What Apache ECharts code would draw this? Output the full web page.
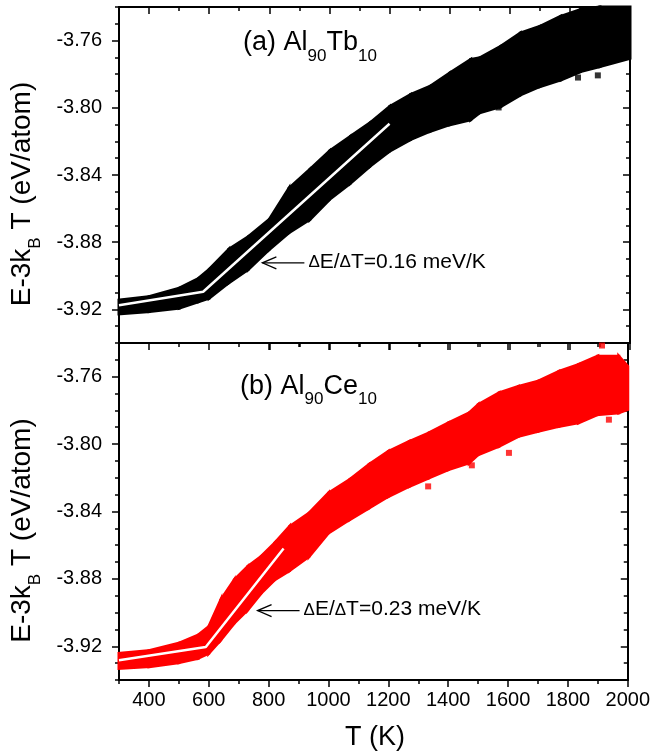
<!DOCTYPE html>
<html><head><meta charset="utf-8">
<script src="https://cdn.jsdelivr.net/npm/echarts@6/dist/echarts.min.js"></script>
<style>html,body{margin:0;padding:0;background:#fff}#c{width:653px;height:756px}</style>
</head><body><div id="c"></div>
<script>
// ---------- data ----------
// (a) Al90Tb10 : envelope of the scattered band (upper / lower edge)
const T_TB  = [300, 400, 500, 565, 600, 665, 730, 800, 865, 935, 1000, 1070, 1135, 1200, 1270, 1335, 1400, 1470, 1500, 1570, 1635, 1700, 1770, 1835, 1900, 2000];
const HI_TB = [-3.9144, -3.9124, -3.9074, -3.9015, -3.8962, -3.8843, -3.8767, -3.8665, -3.8480, -3.8367, -3.8258, -3.8170, -3.8090, -3.7993, -3.7921, -3.7872, -3.7793, -3.7713, -3.7703, -3.7634, -3.7555, -3.7515, -3.7455, -3.7415, -3.7400, -3.7400];
const LO_TB = [-3.9227, -3.9213, -3.9193, -3.9154, -3.9133, -3.9042, -3.8962, -3.8843, -3.8744, -3.8665, -3.8546, -3.8449, -3.8348, -3.8258, -3.8189, -3.8140, -3.8101, -3.8071, -3.8030, -3.7993, -3.7924, -3.7874, -3.7834, -3.7785, -3.7755, -3.7705];
const OUT_TB_T = [1763, 1563, 1827, 1893];
const OUT_TB_E = [-3.7523, -3.7998, -3.7820, -3.7807];
const FIT_TB_T = [300, 580, 1200];
const FIT_TB_E = [-3.9175, -3.9095, -3.8095];

// (b) Al90Ce10
const T_CE  = [300, 400, 500, 565, 600, 640, 685, 730, 775, 820, 870, 935, 1000, 1070, 1135, 1200, 1270, 1335, 1400, 1470, 1500, 1570, 1635, 1700, 1770, 1835, 1900, 1970, 2000];
const HI_CE = [-3.9242, -3.9226, -3.9182, -3.9133, -3.9083, -3.8925, -3.8806, -3.8727, -3.8667, -3.8588, -3.8489, -3.8409, -3.8290, -3.8211, -3.8122, -3.8043, -3.7984, -3.7934, -3.7874, -3.7815, -3.7766, -3.7696, -3.7657, -3.7627, -3.7568, -3.7528, -3.7478, -3.7478, -3.7538];
const LO_CE = [-3.9331, -3.9321, -3.9297, -3.9271, -3.9242, -3.9162, -3.9063, -3.8984, -3.8885, -3.8806, -3.8751, -3.8667, -3.8528, -3.8449, -3.8380, -3.8311, -3.8251, -3.8201, -3.8152, -3.8112, -3.8063, -3.8013, -3.7954, -3.7924, -3.7895, -3.7874, -3.7825, -3.7815, -3.7795];
const OUT_CE_T = [1914, 1937, 1479, 1603, 1333];
const OUT_CE_E = [-3.7415, -3.7855, -3.8126, -3.8052, -3.8251];
const FIT_CE_T = [300, 590, 850];
const FIT_CE_E = [-3.9283, -3.9204, -3.8620];

// axes
const X_MIN = 300, X_MAX = 2000, X_MINOR = 100;
const X_TICKS = [400, 600, 800, 1000, 1200, 1400, 1600, 1800, 2000];
const Y_MIN = -3.94, Y_MAX = -3.74, Y_MINOR = 0.01;
const Y_TICKS = [-3.92, -3.88, -3.84, -3.80, -3.76];

const PANELS = [
  {T: T_TB, HI: HI_TB, LO: LO_TB, OT: OUT_TB_T, OE: OUT_TB_E, FT: FIT_TB_T, FE: FIT_TB_E, color: '#000000',
   label: ['(a) Al', '90', 'Tb', '10'], slope: '0.16', arrow: [777, -3.8923]},
  {T: T_CE, HI: HI_CE, LO: LO_CE, OT: OUT_CE_T, OE: OUT_CE_E, FT: FIT_CE_T, FE: FIT_CE_E, color: '#ff0000',
   label: ['(b) Al', '90', 'Ce', '10'], slope: '0.23', arrow: [763, -3.8988]}
];

// ---------- chart ----------
const FONT = '"Liberation Sans", Arial, Helvetica, sans-serif';
const grids = [
  {left: 119, right: 23, top: 7, height: 336},
  {left: 119, right: 23, top: 343, height: 337}
];
const tickStyle = {color: '#000', width: 1.5};
const xAxis = [], yAxis = [];
grids.forEach((g, gi) => {
  const base = {type: 'value', gridIndex: gi, min: X_MIN, max: X_MAX, splitLine: {show: false}};
  xAxis.push(Object.assign({}, base, {
    position: 'bottom', interval: X_MINOR,
    axisLine: {show: true, lineStyle: {color: '#000', width: 2}},
    axisTick: {show: true, inside: false, length: 4, lineStyle: tickStyle},
    axisLabel: {show: gi === 1, margin: 10, fontSize: 20, color: '#000', fontFamily: FONT,
      formatter: v => (Math.round(v) % 200 === 0 ? String(Math.round(v)) : '')}
  }));
  xAxis.push(Object.assign({}, base, {
    position: 'bottom', axisLine: {show: false},
    axisTick: {show: true, inside: false, length: 7, customValues: X_TICKS, lineStyle: tickStyle},
    axisLabel: {show: false}
  }));
  xAxis.push(Object.assign({}, base, {
    position: 'top', interval: X_MINOR,
    axisLine: {show: true, lineStyle: {color: '#000', width: 2}},
    axisTick: {show: true, inside: true, length: 4, lineStyle: tickStyle},
    axisLabel: {show: false}
  }));
  xAxis.push(Object.assign({}, base, {
    position: 'top', axisLine: {show: false},
    axisTick: {show: true, inside: true, length: 7, customValues: X_TICKS, lineStyle: tickStyle},
    axisLabel: {show: false}
  }));

  const ybase = {type: 'value', gridIndex: gi, min: Y_MIN, max: Y_MAX, splitLine: {show: false}};
  yAxis.push(Object.assign({}, ybase, {
    position: 'left', interval: Y_MINOR,
    axisLine: {show: true, lineStyle: {color: '#000', width: 2}},
    axisTick: {show: true, inside: false, length: 4, lineStyle: tickStyle},
    axisLabel: {show: true, margin: 17, fontSize: 20, color: '#000', fontFamily: FONT,
      formatter: v => { const k = Math.round(v * 100); return (k % 4 === 0) ? (k / 100).toFixed(2) : ''; }}
  }));
  yAxis.push(Object.assign({}, ybase, {
    position: 'left', axisLine: {show: false},
    axisTick: {show: true, inside: false, length: 7, customValues: Y_TICKS, lineStyle: tickStyle},
    axisLabel: {show: false}
  }));
  yAxis.push(Object.assign({}, ybase, {
    position: 'right', interval: Y_MINOR,
    axisLine: {show: true, lineStyle: {color: '#000', width: 2}},
    axisTick: {show: true, inside: true, length: 4, lineStyle: tickStyle},
    axisLabel: {show: false}
  }));
  yAxis.push(Object.assign({}, ybase, {
    position: 'right', axisLine: {show: false},
    axisTick: {show: true, inside: true, length: 7, customValues: Y_TICKS, lineStyle: tickStyle},
    axisLabel: {show: false}
  }));
});

const series = [];
PANELS.forEach((p, gi) => {
  const ax = {xAxisIndex: gi * 4, yAxisIndex: gi * 4};
  const seg = [];
  for (let i = 0; i < p.T.length - 1; i++) {
    seg.push([p.T[i], p.LO[i], p.HI[i], p.T[i + 1], p.LO[i + 1], p.HI[i + 1]]);
  }
  series.push(Object.assign({
    type: 'custom', silent: true, z: 2,
    encode: {x: [0, 3], y: [1, 2, 4, 5]},
    data: seg,
    renderItem: (params, api) => {
      const a = api.coord([api.value(0), api.value(1)]);
      const b = api.coord([api.value(0), api.value(2)]);
      const c = api.coord([api.value(3), api.value(5)]);
      const d = api.coord([api.value(3), api.value(4)]);
      return {type: 'polygon', shape: {points: [a, b, c, d]},
        style: {fill: p.color, stroke: p.color, lineWidth: 3, lineJoin: 'miter'}};
    }
  }, ax));
  series.push(Object.assign({
    type: 'scatter', silent: true, z: 3, symbol: 'rect', symbolSize: 6,
    itemStyle: {color: p.color},
    data: p.OT.map((t, i) => [t, p.OE[i]])
  }, ax));
  series.push(Object.assign({
    type: 'line', silent: true, z: 5, symbol: 'none',
    lineStyle: {color: '#ffffff', width: 2.5},
    data: p.FT.map((t, i) => [t, p.FE[i]])
  }, ax));
});

const chart = echarts.init(document.getElementById('c'), null, {renderer: 'canvas'});
chart.setOption({
  animation: false,
  backgroundColor: '#fff',
  grid: grids,
  xAxis: xAxis,
  yAxis: yAxis,
  series: series
});

// ---------- text annotations (main text + subscripts as separate pieces) ----------
const mctx = document.createElement('canvas').getContext('2d');
function tw(text, size) { mctx.font = size + 'px ' + FONT; return mctx.measureText(text).width; }
function pieces(list, x0, y0) {
  const out = [];
  let x = x0;
  list.forEach(([t, s, dy]) => {
    out.push({type: 'text', x: x, y: y0 + dy, z: 10,
      style: {text: t, fontSize: s, fontFamily: FONT, fill: '#000', align: 'left', verticalAlign: 'middle'}});
    x += tw(t, s);
  });
  return {els: out, width: x - x0};
}

const graphics = [];
const labelPos = [[243, 42.6], [240, 386.3]];
const yTitleCenters = [194, 530.5];
PANELS.forEach((p, gi) => {
  const L = p.label;
  const lab = pieces([[L[0], 27, 0], [L[1], 17, 13.5], [L[2], 27, 0], [L[3], 17, 13.5]], labelPos[gi][0], labelPos[gi][1]);
  lab.els.forEach(e => graphics.push(e));

  const tip = chart.convertToPixel({xAxisIndex: gi * 4, yAxisIndex: gi * 4}, p.arrow);
  const tx = tip[0], ty = tip[1];
  graphics.push({type: 'polyline', z: 10, shape: {points: [[tx + 42, ty], [tx, ty]]},
    style: {stroke: '#000', lineWidth: 1.3, fill: null}});
  graphics.push({type: 'polyline', z: 10, shape: {points: [[tx + 14, ty - 6], [tx, ty], [tx + 14, ty + 6]]},
    style: {stroke: '#000', lineWidth: 1.3, fill: null}});
  const ann = pieces([['Δ', 17, 0.5], ['E/', 21, 0], ['Δ', 17, 0.5], ['T=' + p.slope + ' meV/K', 21, 0]], tx + 46, ty - 1);
  ann.els.forEach(e => graphics.push(e));

  const tl = [['E-3k', 28, 0], ['B', 17, 12.5], [' T (eV/atom)', 28, 0]];
  let total = 0; tl.forEach(([t, s]) => total += tw(t, s));
  const tt = pieces(tl, -total / 2, 0);
  graphics.push({type: 'group', x: 22.5, y: yTitleCenters[gi], rotation: Math.PI / 2, children: tt.els});
});
graphics.push({type: 'text', x: 375, y: 738, z: 10,
  style: {text: 'T (K)', align: 'center', verticalAlign: 'middle', fontSize: 27, fontFamily: FONT, fill: '#000'}});
chart.setOption({graphic: graphics});
</script>
</body></html>
